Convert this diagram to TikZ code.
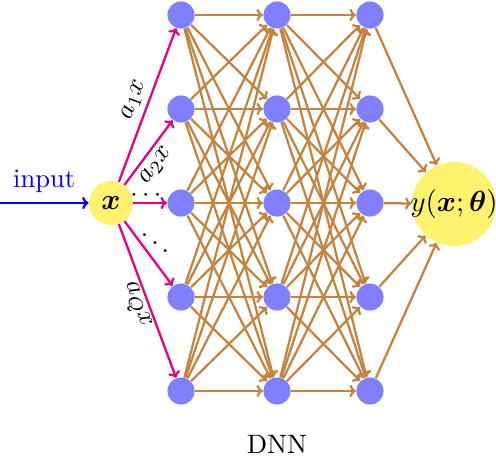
\documentclass[tikz,border=0pt]{standalone}
\usepackage{amsmath,bm}
\usetikzlibrary{arrows.meta}
\definecolor{nodeblue}{RGB}{128,128,255}
\definecolor{nodeyellow}{RGB}{255,242,110}
\definecolor{edgebrown}{RGB}{196,132,64}
\definecolor{edgepink}{RGB}{230,0,126}
\begin{document}
\begin{tikzpicture}[x=0.376pt,y=-0.376pt,
  tip/.style={-{To[length=2.4pt,width=4.6pt]}},
  neuron/.style={circle,fill=nodeblue,minimum size=10.2pt,inner sep=0pt},
  inode/.style={circle,fill=nodeyellow,minimum size=16.5pt,inner sep=0pt,font=\fontsize{11}{13}\selectfont},
  onode/.style={circle,fill=nodeyellow,minimum size=31.6pt,inner sep=0pt},
  conn/.style={tip,draw=edgebrown,line width=0.85pt},
  pinkarrow/.style={tip,draw=edgepink,line width=0.85pt},
  lbl/.style={inner sep=0pt}]
\useasboundingbox (0,0) rectangle (496,456);
% nodes
\node[inode] (x) at (111,203) {$\bm{x}$};
\node[onode] (y) at (454,204) {};
\node[font=\fontsize{11}{13}\selectfont] (ylabel) at (y) {$y(\bm{x};\bm{\theta})$};
\foreach \l/\xx in {1/181,2/277,3/370}
  \foreach \i/\yy in {1/15,2/109,3/203,4/297,5/391}
    \node[neuron] (n\l\i) at (\xx,\yy) {};
% dense connections
\foreach \i in {1,...,5}
  \foreach \j in {1,...,5} {
    \draw[conn] (n1\i) -- (n2\j);
    \draw[conn] (n2\i) -- (n3\j);
  }
\foreach \i in {1,...,5}
  \draw[conn] (n3\i) -- (y);
% input
\coordinate (in) at (0,203);
\draw[tip,blue,line width=0.85pt] (in) -- node[above] (inlabel) {input} (x);
% pink arrows
\draw[pinkarrow] (x) -- (n11);
\draw[pinkarrow] (x) -- (n12);
\draw[pinkarrow] (x) -- (n13);
\draw[pinkarrow] (x) -- (n14);
\draw[pinkarrow] (x) -- (n15);
\node[lbl,rotate=69.6] (a1) at (134,100) {$a_1x$};
\node[lbl,rotate=53.3] (a2) at (156,166) {$a_2x$};
\node[lbl,rotate=-69.6] (aq) at (136,305) {$a_Qx$};
\node[anchor=base] (cdots) at (148,201.6) {$\cdots$};
\node[anchor=base] (ddots) at (155,255) {$\ddots$};
% caption
\node (dnn) at (277,444) {DNN};
\end{tikzpicture}
\end{document}
